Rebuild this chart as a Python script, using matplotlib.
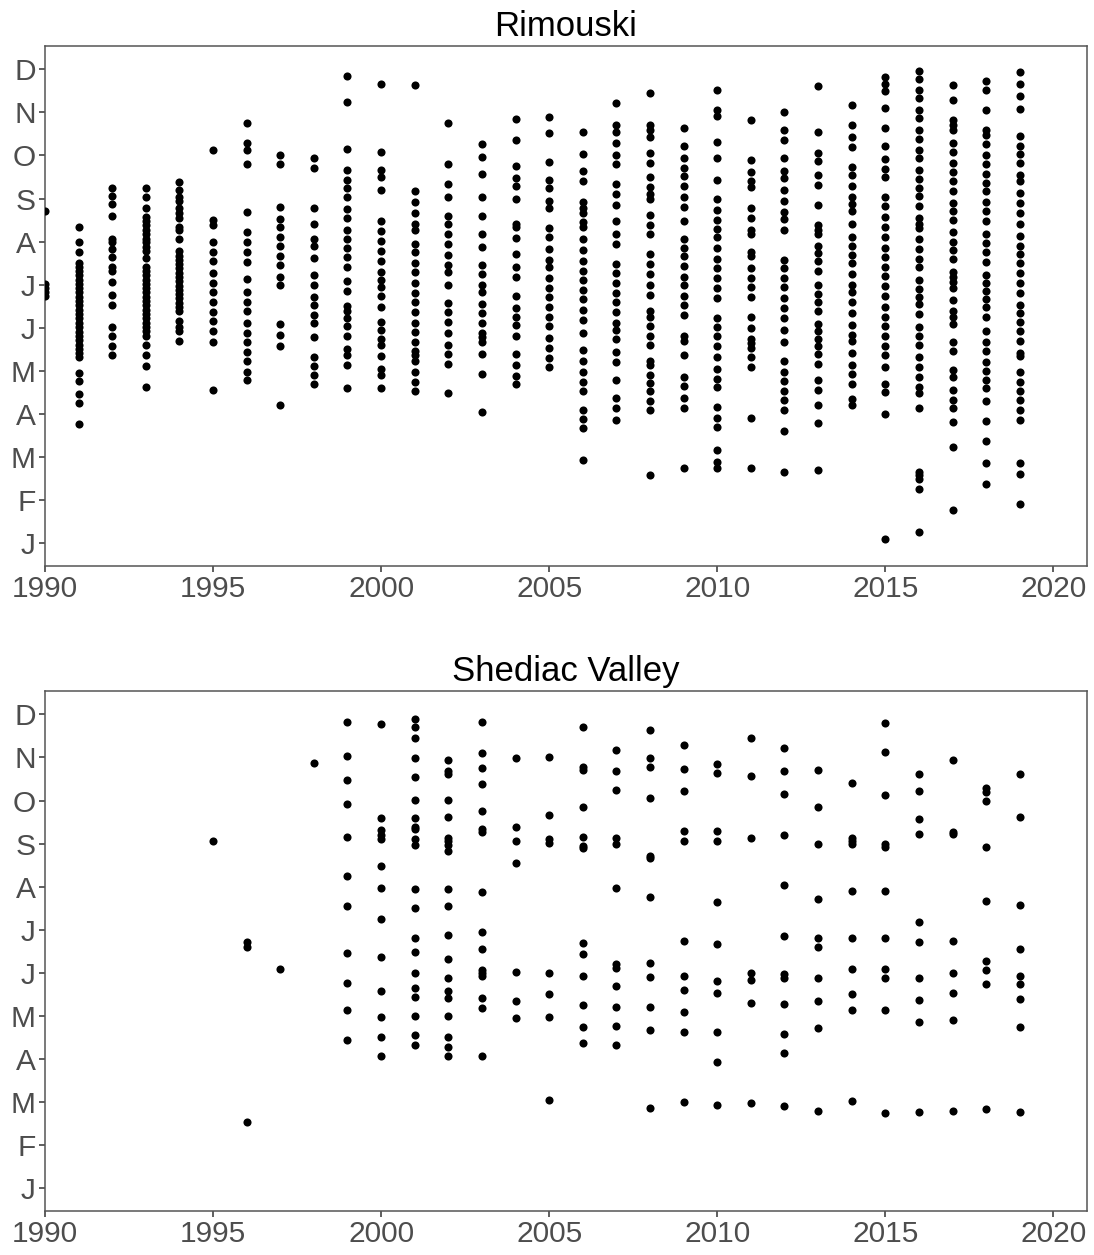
import numpy as np
import matplotlib
matplotlib.use("Agg")
import matplotlib.pyplot as plt

# sampling dates, expressed as fractional month (1 = Jan ... 12 = Dec)
month_labels = ["J", "F", "M", "A", "M", "J", "J", "A", "S", "O", "N", "D"]

rim_years = list(range(1990, 2020))
rim_months = [
    [8.72, 7.02, 6.92, 6.82, 6.74],  # 1990
    [8.34, 7.98, 7.75, 7.50, 7.42, 7.32, 7.22, 7.11, 7.02, 6.92, 6.82, 6.72, 6.62, 6.52, 6.42,
     6.31, 6.22, 6.12, 6.02, 5.91, 5.82, 5.72, 5.61, 5.51, 5.41, 5.32, 4.96, 4.76, 4.46, 4.26, 3.77],
    [9.24, 9.06, 8.87, 8.60, 8.07, 7.98, 7.82, 7.64, 7.40, 7.32, 7.06, 6.76, 6.52, 6.02, 5.80,
     5.58, 5.36],
    [9.24, 9.03, 8.78, 8.58, 8.47, 8.38, 8.28, 8.17, 8.07, 7.98, 7.87, 7.78, 7.62, 7.42, 7.32,
     7.22, 7.12, 7.02, 6.92, 6.82, 6.72, 6.62, 6.52, 6.42, 6.32, 6.22, 6.12, 6.02, 5.92, 5.82,
     5.61, 5.36, 5.12, 4.62],
    [9.38, 9.19, 9.03, 8.94, 8.78, 8.66, 8.55, 8.34, 8.26, 8.07, 7.78, 7.67, 7.58, 7.48, 7.38,
     7.27, 7.18, 7.08, 6.98, 6.88, 6.78, 6.68, 6.58, 6.48, 6.38, 6.16, 6.02, 5.92, 5.70],
    [10.12, 8.50, 8.38, 7.98, 7.75, 7.56, 7.27, 7.04, 6.82, 6.60, 6.36, 6.16, 5.92, 5.68, 4.56],
    [10.75, 10.30, 10.12, 9.80, 8.68, 8.22, 7.98, 7.75, 7.52, 7.14, 6.82, 6.60, 6.40, 6.10, 5.88,
     5.66, 5.44, 5.22, 4.98, 4.78],
    [10.00, 9.80, 8.80, 8.52, 8.34, 8.11, 7.91, 7.66, 7.45, 7.19, 7.00, 6.08, 5.84, 5.58, 4.20],
    [9.94, 9.72, 8.78, 8.41, 8.07, 7.91, 7.62, 7.22, 7.00, 6.72, 6.54, 6.30, 6.10, 5.78, 5.32,
     5.12, 4.90, 4.70],
    [11.84, 11.24, 10.15, 9.66, 9.43, 9.24, 9.04, 8.75, 8.54, 8.28, 8.07, 7.85, 7.64, 7.42, 7.08,
     6.86, 6.51, 6.38, 6.23, 6.04, 5.80, 5.50, 5.36, 5.14, 4.60],
    [11.67, 10.09, 9.67, 9.50, 9.20, 8.48, 8.25, 8.02, 7.79, 7.55, 7.30, 7.10, 6.94, 6.73, 6.48,
     6.14, 5.94, 5.74, 5.60, 5.35, 5.04, 4.90, 4.60],
    [11.64, 9.17, 8.91, 8.67, 8.42, 8.26, 7.95, 7.76, 7.50, 7.29, 7.04, 6.80, 6.60, 6.36, 6.12,
     5.90, 5.68, 5.45, 5.36, 5.24, 4.98, 4.73, 4.53],
    [10.75, 9.80, 9.34, 9.04, 8.60, 8.41, 8.18, 7.95, 7.68, 7.45, 7.29, 6.99, 6.57, 6.36, 6.14,
     5.88, 5.61, 5.38, 5.16, 4.49],
    [10.26, 9.96, 9.57, 9.04, 8.60, 8.18, 7.88, 7.45, 7.26, 7.00, 6.84, 6.56, 6.34, 6.10, 5.88,
     5.79, 5.68, 5.39, 4.92, 4.04],
    [10.85, 10.36, 9.76, 9.47, 9.30, 9.00, 8.40, 8.34, 8.08, 7.72, 7.42, 7.19, 6.73, 6.47, 6.24,
     6.06, 5.80, 5.38, 5.14, 4.89, 4.69],
    [10.90, 10.52, 9.86, 9.43, 9.24, 8.94, 8.79, 8.31, 8.10, 7.83, 7.58, 7.40, 7.16, 6.92, 6.72,
     6.48, 6.26, 6.04, 5.77, 5.52, 5.30, 5.10],
    [10.55, 10.03, 9.63, 9.40, 8.92, 8.78, 8.67, 8.46, 8.34, 8.06, 7.80, 7.54, 7.32, 7.10, 6.88,
     6.66, 6.42, 6.18, 5.88, 5.48, 5.24, 4.98, 4.74, 4.53, 4.09, 3.89, 3.68, 2.94],
    [11.21, 10.70, 10.54, 10.30, 10.00, 9.80, 9.34, 9.11, 8.84, 8.48, 8.18, 7.95, 7.48, 7.27, 7.05,
     6.80, 6.60, 6.36, 6.12, 5.94, 5.74, 5.44, 5.20, 4.78, 4.36, 4.14, 3.86],
    [11.45, 10.70, 10.60, 10.42, 10.06, 9.83, 9.51, 9.26, 9.10, 8.98, 8.62, 8.39, 8.18, 7.71, 7.48,
     7.26, 7.00, 6.76, 6.38, 6.24, 6.04, 5.80, 5.60, 5.22, 5.14, 4.90, 4.72, 4.53, 4.30, 4.10, 2.58],
    [10.63, 10.22, 9.94, 9.72, 9.53, 9.30, 9.03, 8.80, 8.48, 8.07, 7.86, 7.67, 7.44, 7.18, 7.00,
     6.74, 6.52, 6.30, 5.80, 5.70, 5.36, 4.86, 4.64, 4.36, 4.14, 2.74],
    [11.51, 11.06, 10.92, 10.32, 9.93, 9.43, 9.00, 8.74, 8.51, 8.30, 8.10, 7.85, 7.60, 7.38, 7.16,
     6.92, 6.70, 6.22, 6.01, 5.80, 5.58, 5.32, 5.04, 4.82, 4.62, 4.17, 3.90, 3.70, 3.17, 2.88, 2.74],
    [10.82, 9.90, 9.62, 9.40, 9.27, 8.78, 8.55, 8.26, 8.18, 7.75, 7.66, 7.38, 7.16, 6.94, 6.72,
     6.24, 6.00, 5.74, 5.64, 5.52, 5.32, 5.10, 3.90, 2.74],
    [11.02, 10.59, 10.36, 9.94, 9.63, 9.47, 9.20, 8.94, 8.68, 8.52, 8.26, 7.58, 7.38, 7.16, 6.94,
     6.68, 6.46, 6.22, 5.94, 5.66, 5.24, 4.98, 4.76, 4.54, 4.32, 4.10, 3.60, 2.66],
    [11.62, 10.55, 10.06, 9.88, 9.54, 9.31, 8.84, 8.38, 8.26, 8.18, 7.91, 7.74, 7.54, 7.32, 7.00,
     6.78, 6.60, 6.38, 6.08, 5.92, 5.74, 5.58, 5.38, 5.16, 4.78, 4.56, 4.21, 3.78, 2.69],
    [11.18, 10.70, 10.42, 10.19, 9.74, 9.54, 9.30, 9.03, 8.88, 8.70, 8.42, 8.11, 7.90, 7.70, 7.50,
     7.26, 7.00, 6.82, 6.60, 6.34, 6.06, 5.84, 5.70, 5.42, 5.14, 4.92, 4.70, 4.34, 4.21],
    [11.83, 11.66, 11.50, 11.11, 10.64, 10.22, 9.92, 9.68, 9.50, 9.03, 8.83, 8.58, 8.34, 8.10, 7.86,
     7.64, 7.42, 7.20, 6.96, 6.74, 6.48, 6.24, 6.04, 5.80, 5.58, 5.36, 5.10, 4.70, 4.50, 4.00, 1.10],
    [11.96, 11.78, 11.51, 11.34, 11.06, 10.86, 10.60, 10.38, 10.12, 9.94, 9.67, 9.46, 9.24, 9.06,
     8.82, 8.54, 8.42, 8.31, 8.07, 7.83, 7.59, 7.40, 7.10, 6.90, 6.72, 6.56, 6.32, 6.02, 5.80, 5.60,
     5.32, 5.10, 4.86, 4.62, 4.48, 4.13, 2.66, 2.58, 2.50, 2.26, 1.26],
    [11.64, 11.28, 10.82, 10.71, 10.60, 10.30, 10.07, 9.83, 9.62, 9.40, 9.18, 8.90, 8.71, 8.50,
     8.23, 7.99, 7.80, 7.59, 7.30, 7.18, 7.06, 6.92, 6.64, 6.40, 6.24, 6.08, 5.68, 5.46, 5.02, 4.86,
     4.56, 4.32, 4.14, 3.82, 3.24, 1.76],
    [11.72, 11.51, 11.06, 10.58, 10.47, 10.26, 10.00, 9.80, 9.58, 9.35, 9.18, 8.92, 8.70, 8.47,
     8.18, 7.96, 7.75, 7.52, 7.22, 7.04, 6.86, 6.66, 6.48, 6.24, 5.92, 5.66, 5.46, 5.20, 5.00, 4.78,
     4.60, 4.30, 3.84, 3.38, 2.86, 2.38],
    [11.94, 11.67, 11.38, 11.08, 10.46, 10.23, 10.04, 9.83, 9.54, 9.40, 9.14, 8.90, 8.66, 8.42,
     8.12, 7.91, 7.72, 7.51, 7.27, 7.04, 6.80, 6.54, 6.34, 6.14, 5.92, 5.70, 5.42, 5.34, 4.98, 4.74,
     4.53, 4.32, 4.08, 3.86, 2.85, 2.61, 1.92],
]

she_years = [1995, 1996, 1997, 1998] + list(range(1999, 2020))
she_months = [
    [9.06],
    [6.71, 6.61, 2.53],
    [6.10],
    [10.87],
    [11.83, 11.04, 10.48, 9.91, 9.16, 8.24, 7.55, 6.46, 5.77, 5.14, 4.45],
    [11.77, 9.59, 9.31, 9.21, 9.10, 8.47, 7.97, 7.25, 6.36, 5.57, 4.98, 4.52, 4.08],
    [11.90, 11.70, 11.46, 10.98, 10.54, 10.02, 9.59, 9.39, 9.33, 9.10, 8.96, 7.95, 7.51, 6.80,
     6.49, 5.99, 5.66, 5.44, 5.01, 4.55, 4.32],
    [10.94, 10.68, 10.62, 10.02, 9.62, 9.14, 9.06, 8.96, 8.83, 7.95, 7.55, 6.89, 6.33, 5.87,
     5.58, 5.41, 5.01, 4.50, 4.29, 4.06],
    [11.83, 11.11, 10.75, 10.38, 9.75, 9.33, 9.28, 7.88, 6.95, 6.56, 6.06, 5.99, 5.93, 5.41,
     5.18, 4.08],
    [10.98, 9.39, 9.06, 8.56, 6.03, 5.34, 4.95],
    [11.01, 9.66, 9.10, 9.02, 5.99, 5.50, 4.98, 3.06],
    [11.70, 10.78, 10.72, 9.85, 9.16, 8.94, 8.89, 6.69, 6.43, 5.93, 5.25, 4.75, 4.38],
    [11.17, 10.68, 10.25, 9.14, 8.99, 7.97, 6.20, 6.12, 5.70, 5.20, 4.77, 4.32],
    [11.64, 10.98, 10.78, 10.05, 8.71, 8.66, 7.75, 6.23, 5.90, 5.21, 4.68, 2.87],
    [11.30, 10.74, 10.21, 9.29, 9.06, 6.73, 5.93, 5.60, 5.10, 4.62, 3.00],
    [10.84, 10.64, 9.29, 9.06, 7.64, 6.66, 5.80, 5.54, 4.62, 3.92, 2.93],
    [11.46, 10.58, 9.13, 5.99, 5.84, 5.30, 2.97],
    [11.21, 10.68, 10.15, 9.20, 8.05, 6.85, 5.98, 5.87, 5.27, 4.58, 4.15, 2.91],
    [10.71, 9.85, 8.99, 7.71, 6.80, 6.59, 5.87, 5.34, 4.71, 2.80],
    [10.41, 9.14, 9.06, 8.98, 7.91, 6.82, 6.10, 5.50, 5.14, 3.03],
    [11.80, 11.13, 10.12, 8.98, 8.92, 7.91, 6.80, 6.10, 5.87, 5.14, 2.74],
    [10.61, 10.21, 9.56, 9.23, 7.18, 6.72, 5.87, 5.37, 4.87, 2.77],
    [10.94, 9.27, 9.23, 6.75, 6.00, 5.54, 4.91, 2.80],
    [10.28, 10.20, 9.99, 8.93, 7.67, 6.27, 6.07, 5.73, 2.83],
    [10.61, 9.62, 7.58, 6.56, 5.93, 5.73, 5.40, 4.75, 2.77],
]

plt.rcParams["font.family"] = ["Liberation Sans", "DejaVu Sans"]


def flatten(years, months):
    xs, ys = [], []
    for yr, ms in zip(years, months):
        xs.extend([yr] * len(ms))
        ys.extend(ms)
    return np.array(xs), np.array(ys)


def style_panel(ax, title):
    ax.set_title(title, fontsize=25, pad=7)
    ax.set_xlim(1990, 2021)
    ax.set_ylim(0.47, 12.54)
    ax.set_xticks(range(1990, 2021, 5))
    ax.set_yticks(range(1, 13))
    ax.set_yticklabels(month_labels)
    ax.tick_params(axis="both", labelsize=21.5, colors="#333333", labelcolor="#4d4d4d",
                   length=4, width=1.1, pad=2.5)
    for sp in ax.spines.values():
        sp.set_color("#555555")
        sp.set_linewidth(1.1)


fig = plt.figure(figsize=(10.94, 12.55), dpi=100)
ax1 = fig.add_axes([0.0411, 0.549, 0.9525, 0.4143])
ax2 = fig.add_axes([0.0411, 0.035, 0.9525, 0.4143])

for ax, yrs, ms, title in [(ax1, rim_years, rim_months, "Rimouski"),
                           (ax2, she_years, she_months, "Shediac Valley")]:
    x, y = flatten(yrs, ms)
    ax.scatter(x, y, s=34, color="black", linewidths=0, zorder=3)
    style_panel(ax, title)

fig.savefig("out.png", dpi=100)
